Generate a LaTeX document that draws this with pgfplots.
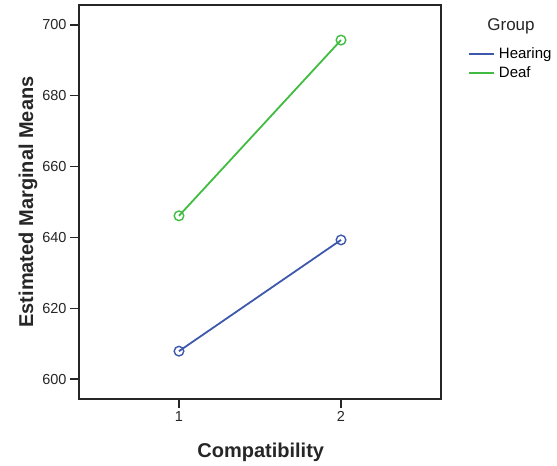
\documentclass[border=0pt]{standalone}
\usepackage{pgfplots}
\pgfplotsset{compat=1.18}
\usepackage{fontspec}
\setmainfont{Liberation Sans}
\definecolor{spssblue}{RGB}{62,88,172}
\definecolor{spssgreen}{RGB}{64,188,64}
\begin{document}
\begin{tikzpicture}
\path[use as bounding box] (-79bp,-67bp) rectangle (478bp,399bp);
\begin{axis}[
  at={(0,0)}, anchor=south west,
  scale only axis,
  width=362bp, height=394bp,
  xmin=0.383, xmax=2.617,
  ymin=594.4, ymax=705.6,
  xtick={1,2}, ytick={600,620,640,660,680,700},
  tick align=outside,
  major tick length=9bp,
  xtick pos=bottom, ytick pos=left,
  axis line style={line width=1.5bp, black!85},
  tick style={line width=1.5bp, black!85},
  /pgf/number format/assume math mode=true,
  ticklabel style={font=\fontsize{14.5bp}{16bp}\selectfont, text=black!85},
  every axis y label/.style={at={(axis description cs:-0.141,0.5)}, rotate=90, anchor=center},
  every axis x label/.style={at={(axis description cs:0.502,-0.1345)}, anchor=center},
  ylabel={\bfseries Estimated Marginal Means},
  xlabel={\bfseries Compatibility},
  label style={font=\fontsize{20bp}{22bp}\selectfont\bfseries, text=black!85},
  legend style={at={(axis description cs:1.075,0.895)}, anchor=north west, draw=none, fill=none,
    font=\fontsize{15bp}{16bp}\selectfont, row sep=3.5bp, inner sep=0pt,
    nodes={inner sep=1.5bp}, column sep=2.5bp},
  legend cell align=left,
  legend image code/.code={\draw[mark=none, #1] (0bp,0bp) -- (25bp,0bp);},
  clip=false,
]
\addlegendimage{draw=spssblue, line width=1.6bp}
\addlegendentry{Hearing}
\addlegendimage{draw=spssgreen, line width=1.6bp}
\addlegendentry{Deaf}
\addplot[forget plot, spssblue, line width=1.8bp, mark=o, mark size=4.8bp, mark options={line width=1.4bp}]
  coordinates {(1,607.9) (2,639.3)};
\addplot[forget plot, spssgreen, line width=1.8bp, mark=o, mark size=4.8bp, mark options={line width=1.4bp}]
  coordinates {(1,646.1) (2,695.7)};
\end{axis}
\node[font=\fontsize{17bp}{19bp}\selectfont, text=black!85] at (432bp,373bp) {Group};
\end{tikzpicture}
\end{document}
